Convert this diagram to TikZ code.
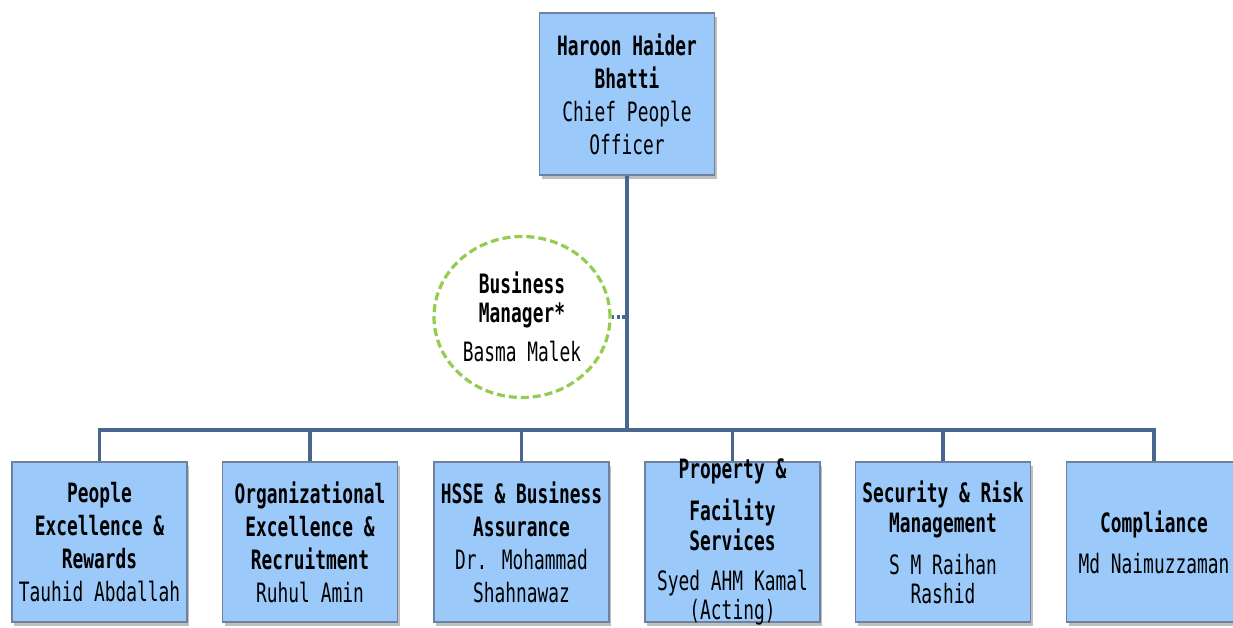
\documentclass[tikz,border=0pt]{standalone}
\usepackage{fontspec}
\setmainfont[FakeStretch=0.67]{DejaVu Sans Mono}
\usetikzlibrary{shapes.geometric,shadows}
\definecolor{boxfill}{RGB}{155,202,250}
\definecolor{boxline}{RGB}{110,130,160}
\definecolor{conn}{RGB}{72,102,142}
\definecolor{dashgreen}{RGB}{146,205,80}
\begin{document}
\begin{tikzpicture}[x=0.75pt,y=-0.75pt,
  orgbox/.style={draw=boxline, line width=0.8pt, fill=boxfill,
    minimum width=131.25pt, minimum height=120pt, align=center, inner sep=0pt,
    font=\fontsize{20}{24.75}\selectfont,
    drop shadow={shadow xshift=1.5pt, shadow yshift=-3pt, opacity=0.5, fill=gray}},
  boxtext/.style={align=center, inner sep=0pt, font=\fontsize{20}{24.75}\selectfont},
  connline/.style={draw=conn, line width=2.6pt},
  mgr/.style={ellipse, draw=dashgreen, line width=2.4pt, dash pattern=on 6pt off 3pt,
    fill=white, minimum width=132pt, minimum height=120.75pt, inner sep=0pt,
    align=center, font=\fontsize{20}{24.75}\selectfont}]
\useasboundingbox (0,0) rectangle (1233,628);
\fill[white] (0,0) rectangle (1233,628);

\coordinate (bus) at (627,430);

\node[orgbox, minimum height=121.5pt] (top) at (627,94)
  {\textbf{Haroon Haider}\\\textbf{Bhatti}\\Chief People\\Officer};

\node[orgbox] (b1) at (99.5,542)
  {\textbf{People}\\\textbf{Excellence \&}\\\textbf{Rewards}\\Tauhid Abdallah};
\node[orgbox] (b2) at (310,542)
  {\textbf{Organizational}\\\textbf{Excellence \&}\\\textbf{Recruitment}\\Ruhul Amin};
\node[orgbox] (b3) at (521.5,542)
  {\textbf{HSSE \& Business}\\\textbf{Assurance}\\Dr. Mohammad\\Shahnawaz};
\node[orgbox] (b4) at (732.5,542) {};
\node[boxtext] (b4t) at (b4.center)
  {\textbf{Property \&}\\[6.75pt]\textbf{Facility}\\[-2.25pt]\textbf{Services}\\[5.25pt]Syed AHM Kamal\\[-3pt](Acting)};
\node[orgbox] (b5) at (943,542)
  {\textbf{Security \& Risk}\\[-2.25pt]\textbf{Management}\\[6.75pt]S M Raihan\\[-3pt]Rashid};
\node[orgbox] (b6) at (1154,542)
  {\textbf{Compliance}\\[6pt]Md Naimuzzaman};

\draw[connline] (top.south) -- (bus);
\draw[connline] (b1.north) |- (bus) -| (b6.north);
\foreach \b in {b2,b3,b4,b5}
  \draw[connline] (\b.north) -- (\b.north |- bus);

\node[mgr] (bm) at (522,317)
  {\textbf{Business}\\[-3pt]\textbf{Manager*}\\[5pt]Basma Malek};
\draw[draw=conn, line width=2.6pt, dash pattern=on 2pt off 2pt] (bm.east) -- (bm.east -| top.south);
\end{tikzpicture}
\end{document}
